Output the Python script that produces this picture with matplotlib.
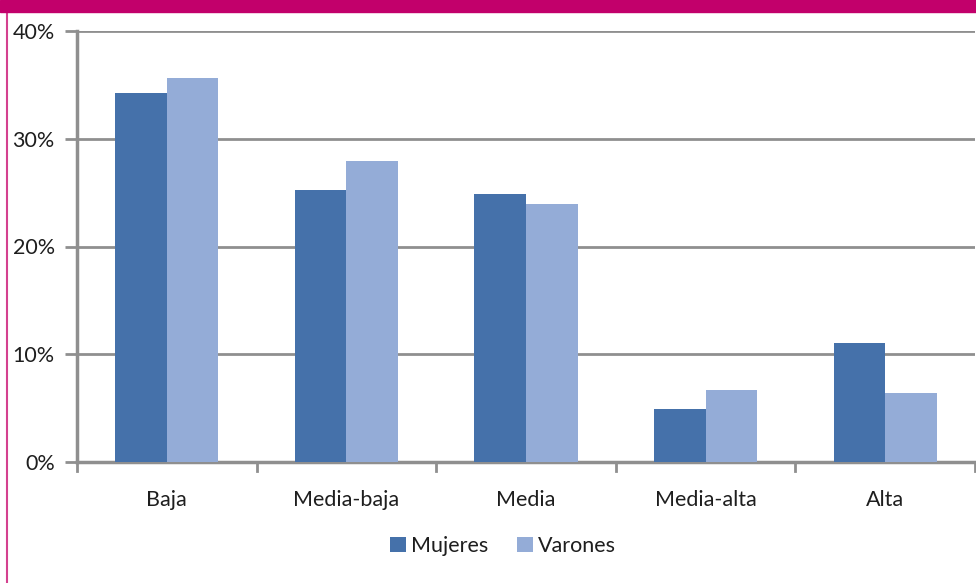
import numpy as np
import matplotlib.pyplot as plt
from matplotlib.patches import Rectangle
from matplotlib.lines import Line2D

categorias = ["Baja", "Media-baja", "Media", "Media-alta", "Alta"]
mujeres = [34.2, 25.2, 24.9, 4.9, 11.0]
varones = [35.6, 27.9, 23.9, 6.7, 6.4]
yticks = [0, 10, 20, 30, 40]

plt.rcParams["font.family"] = ["Lato", "DejaVu Sans"]

col_muj = "#4571aa"
col_var = "#94acd7"
gris = "#8f8f8f"
magenta = "#c2006b"
fs = 15.5

fig = plt.figure(figsize=(9.76, 5.83), dpi=100)
ax = fig.add_axes([77 / 976, 1 - 462 / 583, 898 / 976, 431 / 583])

x = np.arange(len(categorias))
w = 0.287
ax.bar(x - w / 2, mujeres, w, color=col_muj, label="Mujeres", zorder=3)
ax.bar(x + w / 2, varones, w, color=col_var, label="Varones", zorder=3)

ax.set_xlim(-0.5, len(categorias) - 0.5)
ax.set_ylim(0, 40)
ax.set_yticks(yticks)
ax.set_yticklabels([f"{v}%" for v in yticks], fontsize=fs, color="#1e1e1e")
ax.yaxis.grid(True, color=gris, linewidth=2, zorder=0)
ax.tick_params(axis="y", length=9, width=2, color=gris, pad=7)

# category labels without ticks, boundary ticks separately
ax.set_xticks(x)
ax.set_xticklabels(categorias, fontsize=fs, color="#1e1e1e")
ax.tick_params(axis="x", length=0, pad=20)
for b in np.arange(-0.5, len(categorias), 1.0):
    ax.plot([b, b], [0, -0.8], color=gris, linewidth=2, clip_on=False, zorder=4)

for s in ["top", "right"]:
    ax.spines[s].set_visible(False)
for s in ["left", "bottom"]:
    ax.spines[s].set_color(gris)
    ax.spines[s].set_linewidth(2.5)

leg = fig.legend(loc="center", bbox_to_anchor=(503 / 976, 1 - 546 / 583), ncol=2,
                 frameon=False, fontsize=fs, handlelength=0.75, handleheight=0.75,
                 handletextpad=0.25, columnspacing=1.3)
for t in leg.get_texts():
    t.set_color("#1e1e1e")

# pink frame: top banner and left border
fig.patches.append(Rectangle((0, 1 - 12 / 583), 1, 12 / 583, transform=fig.transFigure,
                             color=magenta, zorder=10))
fig.lines.append(Line2D([7 / 976, 7 / 976], [0, 1], transform=fig.transFigure,
                        color="#d4418f", linewidth=1.5, zorder=10))

fig.savefig("out.png", dpi=100)
